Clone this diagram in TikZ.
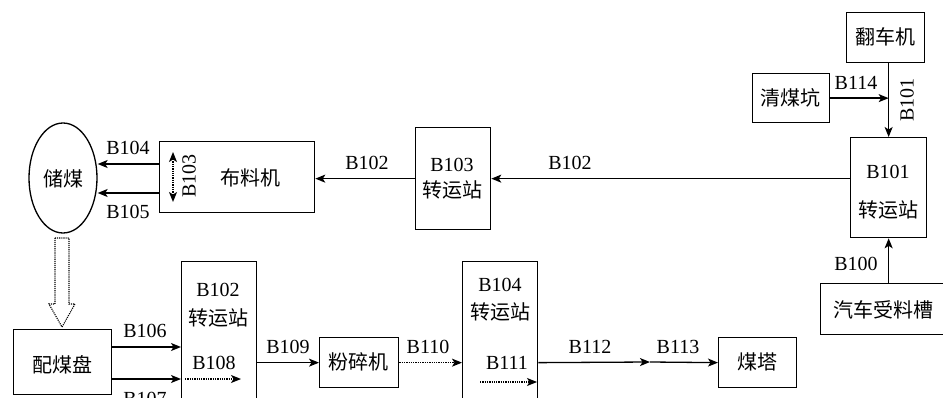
\documentclass[tikz,border=0pt]{standalone}
\usepackage{fontspec}
\setmainfont{Liberation Serif}
\newfontfamily\cjk{Noto Sans CJK SC}
\usetikzlibrary{arrows.meta,shapes.geometric}
\begin{document}
\begin{tikzpicture}[x=1pt,y=-1pt,
  font=\fontsize{20}{24}\selectfont,
  box/.style={draw,line width=1.3pt,inner sep=0pt,anchor=north west},
  arr/.style={line width=1.3pt,-{Stealth[length=10pt,width=8pt,inset=2.5pt]}},
  darr/.style={arr,densely dotted},
  lbl/.style={inner sep=0pt}]
\useasboundingbox (0,0) rectangle (943,398);
\clip (0,0) rectangle (943,398);
% boxes
\node[draw,line width=1.3pt,ellipse,minimum width=68pt,minimum height=110pt,inner sep=0pt] (cm) at (63,178) {};
\node[lbl] at (63,179) {\cjk 储煤};
\node[box,minimum width=155pt,minimum height=71pt] (blj) at (159,141) {};
\node[lbl] at (250,178) {\cjk 布料机};
\node[box,minimum width=75pt,minimum height=102pt] (b103) at (415,127) {};
\node[lbl] at (452,165) {B103};
\node[lbl] at (452,190) {\cjk 转运站};
\node[box,minimum width=76pt,minimum height=100pt] (b101) at (850,137) {};
\node[lbl] at (888,172) {B101};
\node[lbl] at (888,210) {\cjk 转运站};
\node[box,minimum width=78pt,minimum height=50pt] (fcj) at (846,12) {};
\node[lbl] at (885,37) {\cjk 翻车机};
\node[box,minimum width=77pt,minimum height=49pt] (qmk) at (752,73) {};
\node[lbl] at (790,98) {\cjk 清煤坑};
\node[box,minimum width=125pt,minimum height=51pt] (qc) at (820,283) {};
\node[lbl] at (883,310) {\cjk 汽车受料槽};
\node[box,minimum width=78pt,minimum height=50pt] (mt) at (718,337) {};
\node[lbl] at (757,362) {\cjk 煤塔};
\node[box,minimum width=75pt,minimum height=160pt] (b104s) at (462,261) {};
\node[lbl] at (500,285) {B104};
\node[lbl] at (500,312) {\cjk 转运站};
\node[box,minimum width=79pt,minimum height=50pt] (fsj) at (319,337) {};
\node[lbl] at (358,362) {\cjk 粉碎机};
\node[box,minimum width=75pt,minimum height=160pt] (b102s) at (181,261) {};
\node[lbl] at (218,290) {B102};
\node[lbl] at (218,318) {\cjk 转运站};
\node[box,minimum width=98pt,minimum height=65pt] (pmp) at (13,329) {};
\node[lbl] at (62,365) {\cjk 配煤盘};
% top flow
\draw[arr] (fcj.south -| b101.north) -- (b101.north);
\node[lbl,rotate=90] at (907,100) {B101};
\draw[arr] (qmk.east) -- (b101.north |- qmk.east);
\node[lbl] at (856,83) {B114};
\draw[arr] (qc.north -| b101.south) -- (b101.south);
\node[lbl] at (856,264) {B100};
\draw[arr] (b101.west |- b103.east) -- (b103.east);
\node[lbl] at (570,163) {B102};
\draw[arr] (b103.west) -- (blj.east |- b103.west);
\node[lbl] at (367,163) {B102};
\draw[arr] (blj.west |- 0,164) -- (cm.east |- 0,164);
\draw[arr] (blj.west |- 0,193) -- (cm.east |- 0,193);
\node[lbl] at (128,148) {B104};
\node[lbl] at (128,212) {B105};
\coordinate (d1) at (173,152);
\coordinate (d2) at (173,202);
\draw[darr,{Stealth[length=10pt,width=8pt,inset=2.5pt]}-{Stealth[length=10pt,width=8pt,inset=2.5pt]}] (d1) -- (d2);
\node[lbl,rotate=90] at (189,176) {B103};
% hollow dotted arrow
\draw[densely dotted,line width=1.1pt] (55,238) -- (69,238) -- (69,304) -- (75,304) -- (62,327) -- (49,304) -- (55,304) -- cycle;
% bottom flow
\draw[arr] (pmp.east |- 0,347) -- (b102s.west |- 0,347);
\node[lbl] at (145,331) {B106};
\draw[arr] (pmp.east |- 0,379) -- (b102s.west |- 0,379);
\node[lbl] at (145,399) {B107};
\coordinate (e1) at (185,379);
\coordinate (e2) at (241,379);
\draw[darr] (e1) -- (e2);
\node[lbl] at (214,363) {B108};
\draw[arr] (b102s.east |- fsj.west) -- (fsj.west);
\node[lbl] at (288,347) {B109};
\draw[darr] (fsj.east) -- (b104s.west |- fsj.east);
\node[lbl] at (428,347) {B110};
\coordinate (f1) at (480,382);
\coordinate (f2) at (537,382);
\draw[darr] (f1) -- (f2);
\node[lbl] at (507,363) {B111};
\coordinate (m) at (650,362);
\draw[arr] (b104s.east |- mt.west) -- (m);
\draw[arr] (m) -- (mt.west);
\node[lbl] at (590,347) {B112};
\node[lbl] at (678,347) {B113};
\end{tikzpicture}
\end{document}
